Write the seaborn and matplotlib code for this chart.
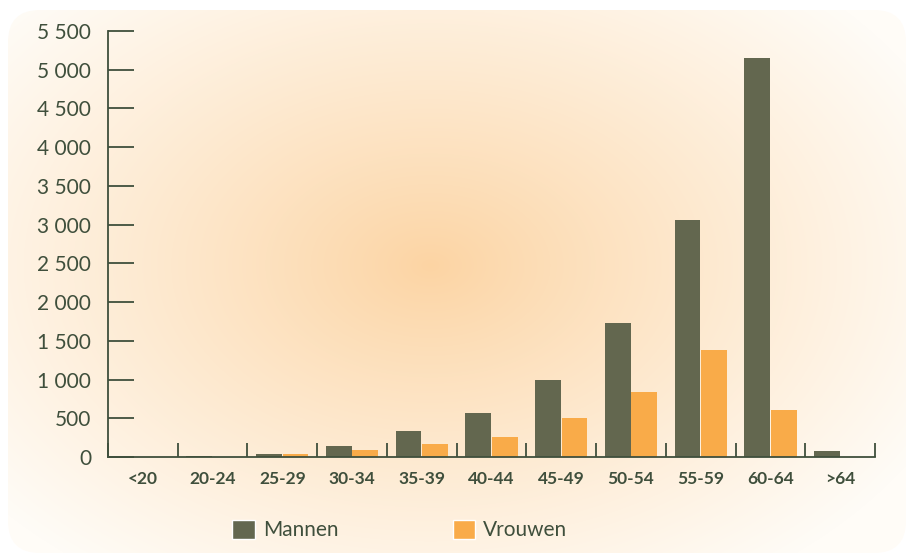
import matplotlib
matplotlib.use("Agg")
import matplotlib.pyplot as plt
from matplotlib.patches import FancyBboxPatch, Patch
from matplotlib.ticker import FuncFormatter
import seaborn as sns
import pandas as pd
import numpy as np

# Data
age_groups = ['<20', '20-24', '25-29', '30-34', '35-39', '40-44',
              '45-49', '50-54', '55-59', '60-64', '>64']
mannen = [5, 12, 40, 145, 340, 570, 1000, 1735, 3055, 5155, 80]
vrouwen = [0, 5, 38, 95, 172, 262, 507, 843, 1385, 611, 0]

df = pd.DataFrame({
    'Leeftijd': age_groups * 2,
    'Aantal': mannen + vrouwen,
    'Geslacht': ['Mannen'] * len(age_groups) + ['Vrouwen'] * len(age_groups),
})

dark = '#63674F'
orange = '#F9AB49'
ink = '#3F4F3C'

sns.set_theme(style='white')
plt.rcParams['font.family'] = ['Lato', 'DejaVu Sans']

W, H = 906, 554
fig = plt.figure(figsize=(W / 100, H / 100), dpi=100)
fig.patch.set_facecolor('white')

# Background: radial gradient in a rounded box
bg = fig.add_axes([0, 0, 1, 1])
bg.set_xlim(0, W)
bg.set_ylim(H, 0)
bg.axis('off')
yy, xx = np.mgrid[0:H, 0:W]
t = np.sqrt(((xx - 430) / 560.0) ** 2 + ((yy - 265) / 380.0) ** 2)
t = np.clip(t, 0, 1) ** 0.9
c0 = np.array([252, 212, 163]) / 255.0
c1 = np.array([255, 252, 247]) / 255.0
img = c0[None, None, :] * (1 - t[..., None]) + c1[None, None, :] * t[..., None]
box = FancyBboxPatch((8, 10), 898, 543, boxstyle='round,pad=0,rounding_size=32',
                     facecolor='none', edgecolor='none', transform=bg.transData)
bg.add_patch(box)
im = bg.imshow(img, extent=(0, W, H, 0), aspect='auto', interpolation='bilinear')
im.set_clip_path(box)

# Main axes
ax = fig.add_axes([108 / W, 1 - 457 / H, 767 / W, 426 / H])
ax.patch.set_alpha(0)
sns.barplot(data=df, x='Leeftijd', y='Aantal', hue='Geslacht',
            palette=[dark, orange], width=0.76, gap=0.03, saturation=1,
            linewidth=0, ax=ax, legend=False)

ax.set_xlim(-0.5, len(age_groups) - 0.5)
ax.set_ylim(0, 5500)
ax.set_xlabel('')
ax.set_ylabel('')

for s in ['top', 'right']:
    ax.spines[s].set_visible(False)
for s in ['left', 'bottom']:
    ax.spines[s].set_color(ink)
    ax.spines[s].set_linewidth(1.3)

ax.set_yticks(range(0, 5501, 500))
ax.yaxis.set_major_formatter(FuncFormatter(lambda v, p: f"{int(v):,}".replace(',', ' ')))
ax.tick_params(axis='y', direction='in', length=19, width=1.3, color=ink,
               labelcolor=ink, labelsize=15, pad=12, left=True)

ax.set_xticks(np.arange(-0.5, len(age_groups), 1.0))
ax.set_xticklabels([])
ax.set_xticks(range(len(age_groups)), minor=True)
ax.set_xticklabels(age_groups, minor=True, fontsize=12.5, fontweight='bold')
ax.tick_params(axis='x', which='major', direction='in', length=10, width=1.3,
               color=ink, bottom=True)
ax.tick_params(axis='x', which='minor', length=0, labelcolor=ink, pad=10, bottom=True)

# Legend
handles = [Patch(facecolor=dark, label='Mannen'), Patch(facecolor=orange, label='Vrouwen')]
leg = fig.legend(handles=handles, loc='center', bbox_to_anchor=(400 / W, 1 - 530 / H),
                 ncol=2, frameon=False, fontsize=15, handlelength=1.06,
                 handleheight=1.06, handletextpad=0.4, columnspacing=5.5)
for txt in leg.get_texts():
    txt.set_color(ink)

fig.savefig('out.png', dpi=100)
